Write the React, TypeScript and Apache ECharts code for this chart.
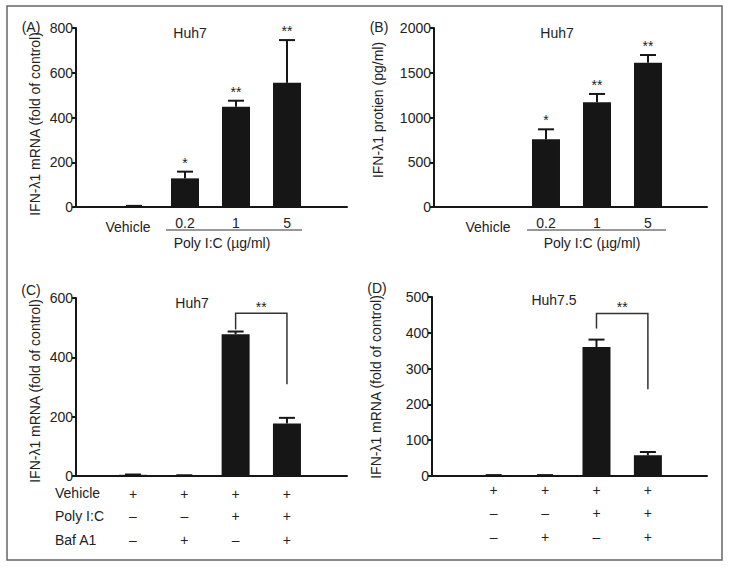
import React, { useEffect, useRef } from "react";
import * as echarts from "echarts";

// ---- Data ----
const doseCategories = ["Vehicle", "0.2", "1", "5"];
const aMean = [4, 128, 448, 555];
const aErr = [1, 30, 27, 191];
const aStars = ["", "*", "**", "**"];

const bMean = [0, 756, 1170, 1612];
const bErr = [0, 112, 93, 86];
const bStars = ["", "*", "**", "**"];

const cMean = [4, 2, 478, 177];
const cErr = [1, 0.5, 9, 19];
const cBracket = [[2, 494, 3, 549, 309]];

const dMean = [2, 2, 360, 58];
const dErr = [0.5, 0.5, 21, 9];
const dBracket = [[2, 412, 3, 454, 242]];

const vehicleRow = ["+", "+", "+", "+"];
const polyRow = ["–", "–", "+", "+"];
const bafRow = ["–", "+", "–", "+"];

const aTicks = { max: 800, interval: 200 };
const bTicks = { max: 2000, interval: 500 };
const cTicks = { max: 600, interval: 200 };
const dTicks = { max: 500, interval: 100 };

const mrnaName = "IFN-λ1 mRNA (fold of control)";
const proteinName = "IFN-λ1 protien (pg/ml)";

const FONT = "'Liberation Sans', Arial, Helvetica, sans-serif";
const FS = 14;
const INK = "#161616";
const TXT = "#222";

function xAxis(gridIndex: number, min: number, max: number) {
  return {
    gridIndex,
    type: "value",
    min,
    max,
    axisLine: { show: true, onZero: false, lineStyle: { color: INK, width: 2 } },
    axisTick: { show: false },
    axisLabel: { show: false },
    splitLine: { show: false },
  };
}

function yAxis(gridIndex: number, t: { max: number; interval: number }) {
  return {
    gridIndex,
    type: "value",
    min: 0,
    max: t.max,
    interval: t.interval,
    axisLine: { show: true, onZero: false, lineStyle: { color: INK, width: 2 } },
    axisTick: { show: true, length: 4, lineStyle: { color: INK, width: 2 } },
    axisLabel: { fontSize: FS, color: TXT, margin: 3, fontFamily: FONT, formatter: (v: number) => String(v) },
    splitLine: { show: false },
  };
}

function barSeries(k: number, means: number[]) {
  return {
    type: "bar",
    xAxisIndex: k,
    yAxisIndex: k,
    barWidth: 28,
    data: means.map((v, i) => [i, v]),
    itemStyle: { color: INK },
    silent: true,
  };
}

function errSeries(k: number, means: number[], errs: number[]) {
  return {
    type: "custom",
    xAxisIndex: k,
    yAxisIndex: k,
    encode: { x: 0, y: 1 },
    data: means.map((v, i) => [i, v, errs[i]]),
    renderItem: (_p: any, api: any) => {
      const x = api.value(0), v = api.value(1), e = api.value(2);
      if (!e) return null;
      const t = api.coord([x, v + e]);
      const b = api.coord([x, v]);
      return {
        type: "group",
        children: [
          { type: "line", shape: { x1: t[0], y1: t[1], x2: b[0], y2: b[1] }, style: { stroke: INK, lineWidth: 2 } },
          { type: "line", shape: { x1: t[0] - 8, y1: t[1], x2: t[0] + 8, y2: t[1] }, style: { stroke: INK, lineWidth: 2 } },
        ],
      };
    },
  };
}

function starSeries(k: number, means: number[], errs: number[], stars: string[]) {
  return {
    type: "custom",
    xAxisIndex: k,
    yAxisIndex: k,
    encode: { x: 0, y: 1 },
    data: means.map((v, i) => [i, v + errs[i]]),
    renderItem: (p: any, api: any) => {
      const s = stars[p.dataIndex];
      if (!s) return null;
      const c = api.coord([api.value(0), api.value(1)]);
      return {
        type: "text",
        x: c[0],
        y: c[1] - 2,
        style: { text: s, font: `${FS}px ${FONT}`, fill: TXT, textAlign: "center", textVerticalAlign: "bottom" },
      };
    },
  };
}

function labelSeries(k: number, labels: string[], dy: number, dxFirst = 0, dyFirst = 0) {
  return {
    type: "custom",
    xAxisIndex: k,
    yAxisIndex: k,
    encode: { x: 0, y: 1 },
    data: labels.map((_l, i) => [i, 0]),
    renderItem: (p: any, api: any) => {
      const c = api.coord([api.value(0), 0]);
      const first = p.dataIndex === 0;
      return {
        type: "text",
        x: c[0] + (first ? dxFirst : 0),
        y: c[1] + dy + (first ? dyFirst : 0),
        style: { text: labels[p.dataIndex], font: `${FS}px ${FONT}`, fill: TXT, textAlign: "center", textVerticalAlign: "middle" },
      };
    },
  };
}

function bracketSeries(k: number, data: number[][]) {
  return {
    type: "custom",
    xAxisIndex: k,
    yAxisIndex: k,
    encode: { x: 0, y: 1 },
    data,
    renderItem: (_p: any, api: any) => {
      const x1 = api.value(0), yl = api.value(1), x2 = api.value(2), yt = api.value(3), yr = api.value(4);
      const p1 = api.coord([x1, yl]);
      const p2 = api.coord([x1, yt]);
      const p3 = api.coord([x2, yt]);
      const p4 = api.coord([x2, yr]);
      return {
        type: "group",
        children: [
          { type: "polyline", shape: { points: [p1, p2, p3, p4] }, style: { stroke: "#333", lineWidth: 1.5, fill: null } },
          {
            type: "text",
            x: (p2[0] + p3[0]) / 2,
            y: p2[1] + 1,
            style: { text: "**", font: `${FS}px ${FONT}`, fill: TXT, textAlign: "center", textVerticalAlign: "bottom" },
          },
        ],
      };
    },
  };
}

function txt(x: number, y: number, text: string, align = "center", size = FS) {
  return {
    type: "text",
    x,
    y,
    style: { text, font: `${size}px ${FONT}`, fill: TXT, textAlign: align, textVerticalAlign: "middle" },
  };
}

function vtxt(x: number, y: number, text: string) {
  return {
    type: "text",
    x,
    y,
    rotation: Math.PI / 2,
    style: { text, font: `${FS}px ${FONT}`, fill: TXT, textAlign: "center", textVerticalAlign: "middle" },
  };
}

export default function App() {
  const ref = useRef<HTMLDivElement>(null);
  useEffect(() => {
    if (!ref.current) return;
    const chart = echarts.init(ref.current, null, { renderer: "svg" });
    const option: any = {
      animation: false,
      backgroundColor: "#fff",
      grid: [
        { left: 76, top: 28, width: 271, height: 179 },
        { left: 434, top: 28, width: 273, height: 179 },
        { left: 76, top: 298, width: 271, height: 178 },
        { left: 432, top: 297, width: 275, height: 179 },
      ],
      xAxis: [
        xAxis(0, -1.137, 4.176),
        xAxis(1, -1.196, 4.157),
        xAxis(2, -1.11, 4.17),
        xAxis(3, -1.2, 4.15),
      ],
      yAxis: [yAxis(0, aTicks), yAxis(1, bTicks), yAxis(2, cTicks), yAxis(3, dTicks)],
      series: [
        barSeries(0, aMean),
        errSeries(0, aMean, aErr),
        starSeries(0, aMean, aErr, aStars),
        labelSeries(0, doseCategories, 16, -6, 4),
        barSeries(1, bMean),
        errSeries(1, bMean, bErr),
        starSeries(1, bMean, bErr, bStars),
        labelSeries(1, doseCategories, 16, -7, 4),
        barSeries(2, cMean),
        errSeries(2, cMean, cErr),
        bracketSeries(2, cBracket),
        labelSeries(2, vehicleRow, 18),
        labelSeries(2, polyRow, 40),
        labelSeries(2, bafRow, 64),
        barSeries(3, dMean),
        errSeries(3, dMean, dErr),
        bracketSeries(3, dBracket),
        labelSeries(3, vehicleRow, 14),
        labelSeries(3, polyRow, 37),
        labelSeries(3, bafRow, 61),
      ],
      graphic: [
        {
          type: "rect",
          shape: { x: 7, y: 6, width: 715, height: 554 },
          style: { fill: "none", stroke: "#666", lineWidth: 1.5 },
          silent: true,
        },
        txt(31, 27, "(A)"),
        txt(379, 27, "(B)"),
        txt(31, 290, "(C)"),
        txt(377, 288, "(D)"),
        vtxt(35, 124, mrnaName),
        vtxt(378, 110, proteinName),
        vtxt(35, 391, mrnaName),
        vtxt(376, 387, mrnaName),
        txt(190, 33, "Huh7"),
        txt(557, 33, "Huh7"),
        txt(192, 303, "Huh7"),
        txt(554, 300, "Huh7.5"),
        { type: "line", shape: { x1: 166, y1: 230, x2: 302, y2: 230 }, style: { stroke: "#333", lineWidth: 1 } },
        { type: "line", shape: { x1: 527, y1: 230, x2: 666, y2: 230 }, style: { stroke: "#333", lineWidth: 1 } },
        txt(222, 243, "Poly I:C (µg/ml)"),
        txt(592, 243, "Poly I:C (µg/ml)"),
        txt(55, 493, "Vehicle", "left"),
        txt(55, 516, "Poly I:C", "left"),
        txt(55, 540, "Baf A1", "left"),
      ],
    };
    chart.setOption(option);
    return () => chart.dispose();
  }, []);
  return (
    <div
      ref={ref}
      style={{ position: "fixed", left: 0, top: 0, width: 729, height: 569, background: "#fff" }}
    />
  );
}
